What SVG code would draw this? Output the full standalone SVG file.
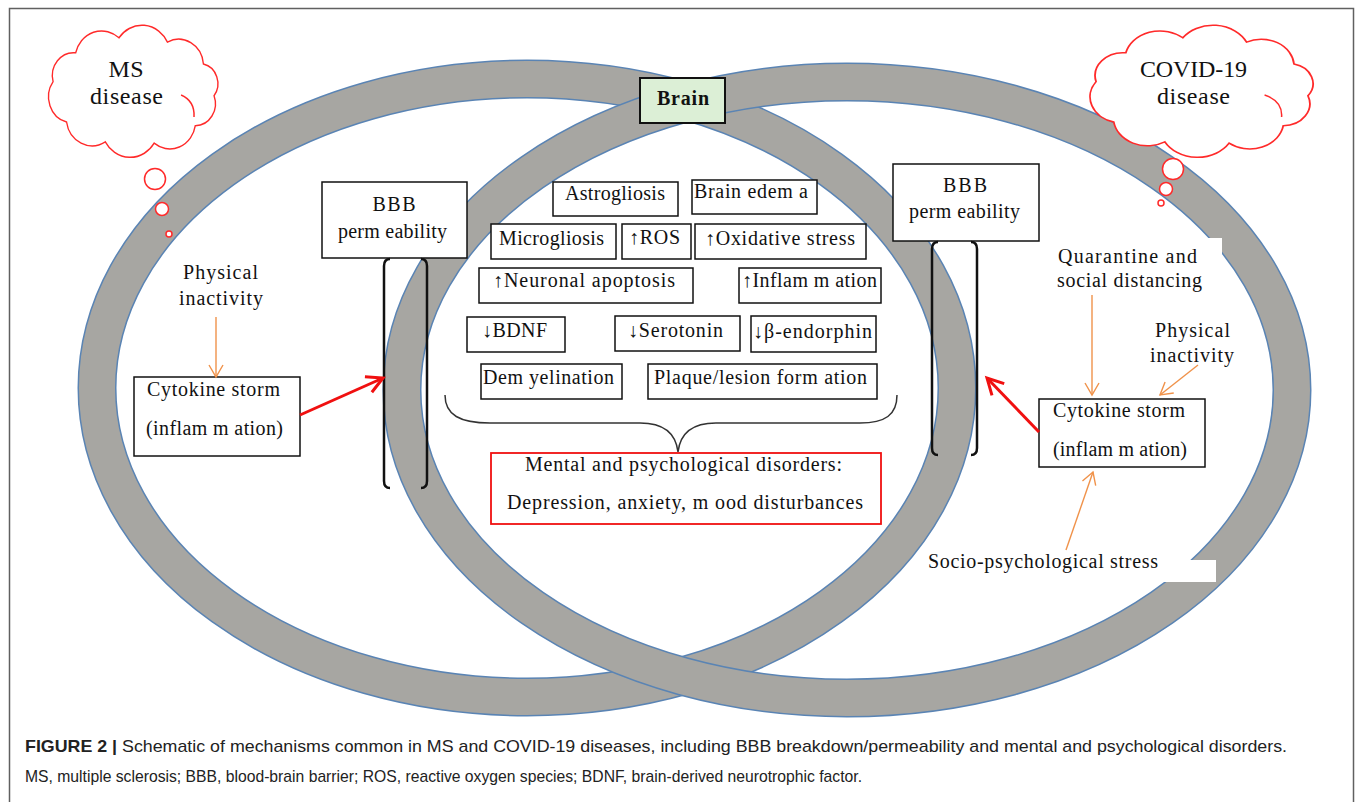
<svg xmlns="http://www.w3.org/2000/svg" width="1355" height="802" viewBox="0 0 1355 802">
<style>
.t{font-family:"Liberation Serif","Times New Roman",serif;font-size:20px;fill:#111;}
.tb{font-family:"Liberation Serif","Times New Roman",serif;font-size:20px;font-weight:bold;fill:#111;}
.tc{font-family:"Liberation Serif","Times New Roman",serif;font-size:24px;fill:#111;}
.cap{font-family:"Liberation Sans",Arial,sans-serif;font-size:17px;fill:#222;}
.box{fill:#fff;stroke:#111;stroke-width:1.5;}
.ringb{fill:none;stroke:#5a84b4;stroke-width:39;}
.ringg{fill:none;stroke:#a7a6a2;stroke-width:36;}
.cloud{fill:#fff;stroke:#ff2a2a;stroke-width:1.5;}
.bub{fill:#fff;stroke:#ff2a2a;stroke-width:1.5;}
.brk{fill:none;stroke:#111;stroke-width:2.5;}
.red{stroke:#f01010;stroke-width:3;fill:none;}
.org{stroke:#f0924a;stroke-width:1.4;fill:none;}
</style>
<defs>
<marker id="mr" markerUnits="userSpaceOnUse" markerWidth="20" markerHeight="20" refX="16" refY="8.5" orient="auto" overflow="visible">
<path d="M0,0 L16,8.5 L0,17" fill="none" stroke="#f01010" stroke-width="3"/>
</marker>
<marker id="mo" markerUnits="userSpaceOnUse" markerWidth="16" markerHeight="16" refX="12" refY="7" orient="auto" overflow="visible">
<path d="M0,0 L12,7 L0,14" fill="none" stroke="#f0924a" stroke-width="1.4"/>
</marker>
<path id="cloudp" d="M13.3,56.6 A23,23 0 0 1 37.8,27.8 A29,29 0 0 1 84.7,12.8 A31,31 0 0 1 137.2,17.1 A27,27 0 0 1 176.2,39 A20,20 0 0 1 187.7,70.7 A22,22 0 0 1 167.4,100.7 A28,28 0 0 1 122.8,118.2 A31,31 0 0 1 69.9,116.8 A28,28 0 0 1 27.9,97 A26,26 0 0 1 13.3,56.6 Z"/>
</defs>

<rect x="9.5" y="8.5" width="1344" height="810" fill="#fff" stroke="#606060" stroke-width="1.5"/>

<g id="rings">
<ellipse class="ringb" cx="527" cy="388" rx="430" ry="309"/>
<ellipse class="ringg" cx="527" cy="388" rx="430" ry="309"/>
<ellipse class="ringb" cx="847" cy="390" rx="445" ry="308"/>
<ellipse class="ringg" cx="847" cy="390" rx="445" ry="308"/>
</g>

<g id="ms-cloud">
<g transform="translate(40.8,25) scale(0.923,1)">
<use href="#cloudp" class="cloud" vector-effect="non-scaling-stroke"/>
<path d="M152,70 Q167,76 166,92" fill="none" stroke="#ff2a2a" stroke-width="1.5" vector-effect="non-scaling-stroke"/>
</g>
<text class="tc" x="126" y="77" text-anchor="middle" textLength="35">MS</text>
<text class="tc" x="126.5" y="104" text-anchor="middle" textLength="73">disease</text>
<circle class="bub" cx="155" cy="179" r="10.5"/>
<circle class="bub" cx="162" cy="209" r="6.5"/>
<circle class="bub" cx="169" cy="234" r="3"/>
</g>

<g id="covid-cloud">
<g transform="translate(1079.9,25) scale(1.215,1)">
<use href="#cloudp" class="cloud" vector-effect="non-scaling-stroke"/>
<path d="M152,70 Q167,76 166,92" fill="none" stroke="#ff2a2a" stroke-width="1.5" vector-effect="non-scaling-stroke"/>
</g>
<text class="tc" x="1193.5" y="77" text-anchor="middle" textLength="107">COVID-19</text>
<text class="tc" x="1193.5" y="104" text-anchor="middle" textLength="73">disease</text>
<circle class="bub" cx="1173" cy="169" r="10.5"/>
<circle class="bub" cx="1166" cy="189" r="6.5"/>
<circle class="bub" cx="1161" cy="203" r="3"/>
</g>

<g id="brain">
<rect x="640" y="78" width="85" height="45" fill="#dcefd6" stroke="#111" stroke-width="2"/>
<text class="tb" x="683" y="105" text-anchor="middle" textLength="52">Brain</text>
</g>

<g id="astrogliosis"><rect class="box" x="553" y="182" width="125" height="34"/><text class="t" x="565" y="200" textLength="100">Astrogliosis</text></g>
<g id="brain-edema"><rect class="box" x="692" y="180" width="125" height="34"/><text class="t" x="694" y="198" textLength="114">Brain edem a</text></g>
<g id="microgliosis"><rect class="box" x="491" y="224" width="125" height="35"/><text class="t" x="499" y="245" textLength="105">Microgliosis</text></g>
<g id="ros"><rect class="box" x="622" y="224" width="69" height="35"/><text class="t" x="629" y="244" textLength="51">↑ROS</text></g>
<g id="oxidative"><rect class="box" x="695" y="224" width="171" height="35"/><text class="t" x="705" y="245" textLength="150">↑Oxidative stress</text></g>
<g id="apoptosis"><rect class="box" x="479" y="268" width="214" height="35"/><text class="t" x="493" y="287" textLength="182">↑Neuronal apoptosis</text></g>
<g id="inflammation"><rect class="box" x="739" y="268" width="142" height="35"/><text class="t" x="742" y="287" textLength="135">↑Inflam m ation</text></g>
<g id="bdnf"><rect class="box" x="467" y="317" width="98" height="35"/><text class="t" x="482" y="337" textLength="65">↓BDNF</text></g>
<g id="serotonin"><rect class="box" x="615" y="316" width="125" height="35"/><text class="t" x="628" y="337" textLength="95">↓Serotonin</text></g>
<g id="endorphin"><rect class="box" x="751" y="316" width="125" height="36"/><text class="t" x="753" y="338" textLength="119">↓β-endorphin</text></g>
<g id="demyelination"><rect class="box" x="481" y="364" width="141" height="35"/><text class="t" x="483" y="384" textLength="131">Dem yelination</text></g>
<g id="plaque"><rect class="box" x="648" y="364" width="229" height="35"/><text class="t" x="654" y="384" textLength="213">Plaque/lesion form ation</text></g>

<g id="mental">
<rect x="491" y="453" width="390" height="71" fill="#fff" stroke="#f01010" stroke-width="1.8"/>
<text class="t" x="525" y="471" textLength="317">Mental and psychological disorders:</text>
<text class="t" x="507" y="509" textLength="356">Depression,  anxiety, m ood disturbances</text>
</g>

<g id="bbb-left">
<rect class="box" x="322" y="182" width="145" height="76"/>
<text class="t" x="394" y="211" text-anchor="middle" textLength="43">BBB</text>
<text class="t" x="338" y="238" textLength="109">perm eability</text>
</g>
<g id="bracket-left">
<path class="brk" d="M390,259 Q384,259 384,266 L384,481 Q384,488 390,488"/>
<path class="brk" d="M421,259 Q427,259 427,266 L427,481 Q427,488 421,488"/>
</g>

<g id="bbb-right">
<rect class="box" x="893" y="164" width="146" height="77"/>
<text class="t" x="965" y="192" text-anchor="middle" textLength="44">BBB</text>
<text class="t" x="909" y="218" textLength="111">perm eability</text>
</g>
<g id="bracket-right">
<path class="brk" d="M938,242 Q932,242 932,249 L932,448 Q932,455 938,455"/>
<path class="brk" d="M971,242 Q977,242 977,249 L977,448 Q977,455 971,455"/>
</g>

<g id="phys-left">
<text class="t" x="183" y="279" textLength="75">Physical</text>
<text class="t" x="179" y="305" textLength="84">inactivity</text>
</g>
<g id="cyto-left">
<rect class="box" x="134" y="377" width="166" height="79"/>
<text class="t" x="147" y="396" textLength="133">Cytokine storm</text>
<text class="t" x="146" y="435" textLength="137">(inflam m ation)</text>
</g>

<g id="quarantine">
<rect x="1050" y="238" width="172" height="55" fill="#fff"/>
<text class="t" x="1058" y="263" textLength="139">Quarantine and</text>
<text class="t" x="1057" y="287" textLength="145">social distancing</text>
</g>
<g id="phys-right">
<text class="t" x="1155" y="337" textLength="75">Physical</text>
<text class="t" x="1150" y="362" textLength="84">inactivity</text>
</g>
<g id="cyto-right">
<rect class="box" x="1039" y="399" width="166" height="68"/>
<text class="t" x="1053" y="417" textLength="132">Cytokine storm</text>
<text class="t" x="1053" y="456" textLength="134">(inflam m ation)</text>
</g>
<g id="socio">
<rect x="1150" y="560" width="66" height="22" fill="#fff"/>
<text class="t" x="928" y="568" textLength="230">Socio-psychological stress</text>
</g>

<g id="connectors">
<path d="M445,395 C445,415 460,423 490,423 L640,423 C665,423 676,435 678,452 C680,435 691,423 716,423 L860,423 C885,423 897,415 897,395" fill="none" stroke="#333" stroke-width="1.5"/>
<line class="org" x1="216" y1="317" x2="216" y2="377" marker-end="url(#mo)"/>
<line class="red" x1="300" y1="415" x2="383" y2="378" marker-end="url(#mr)"/>
<line class="org" x1="1092" y1="295" x2="1092" y2="395" marker-end="url(#mo)"/>
<line class="org" x1="1198" y1="365" x2="1160" y2="395" marker-end="url(#mo)"/>
<line class="org" x1="1066" y1="550" x2="1093" y2="472" marker-end="url(#mo)"/>
<line class="red" x1="1039" y1="432" x2="987" y2="378" marker-end="url(#mr)"/>
</g>

<g id="caption">
<text class="cap" x="25" y="752" textLength="1262" lengthAdjust="spacingAndGlyphs"><tspan font-weight="bold">FIGURE 2 |</tspan> Schematic of mechanisms common in MS and COVID-19 diseases, including BBB breakdown/permeability and mental and psychological disorders.</text>
<text class="cap" x="25" y="782" textLength="837" lengthAdjust="spacingAndGlyphs">MS, multiple sclerosis; BBB, blood-brain barrier; ROS, reactive oxygen species; BDNF, brain-derived neurotrophic factor.</text>
</g>
</svg>
